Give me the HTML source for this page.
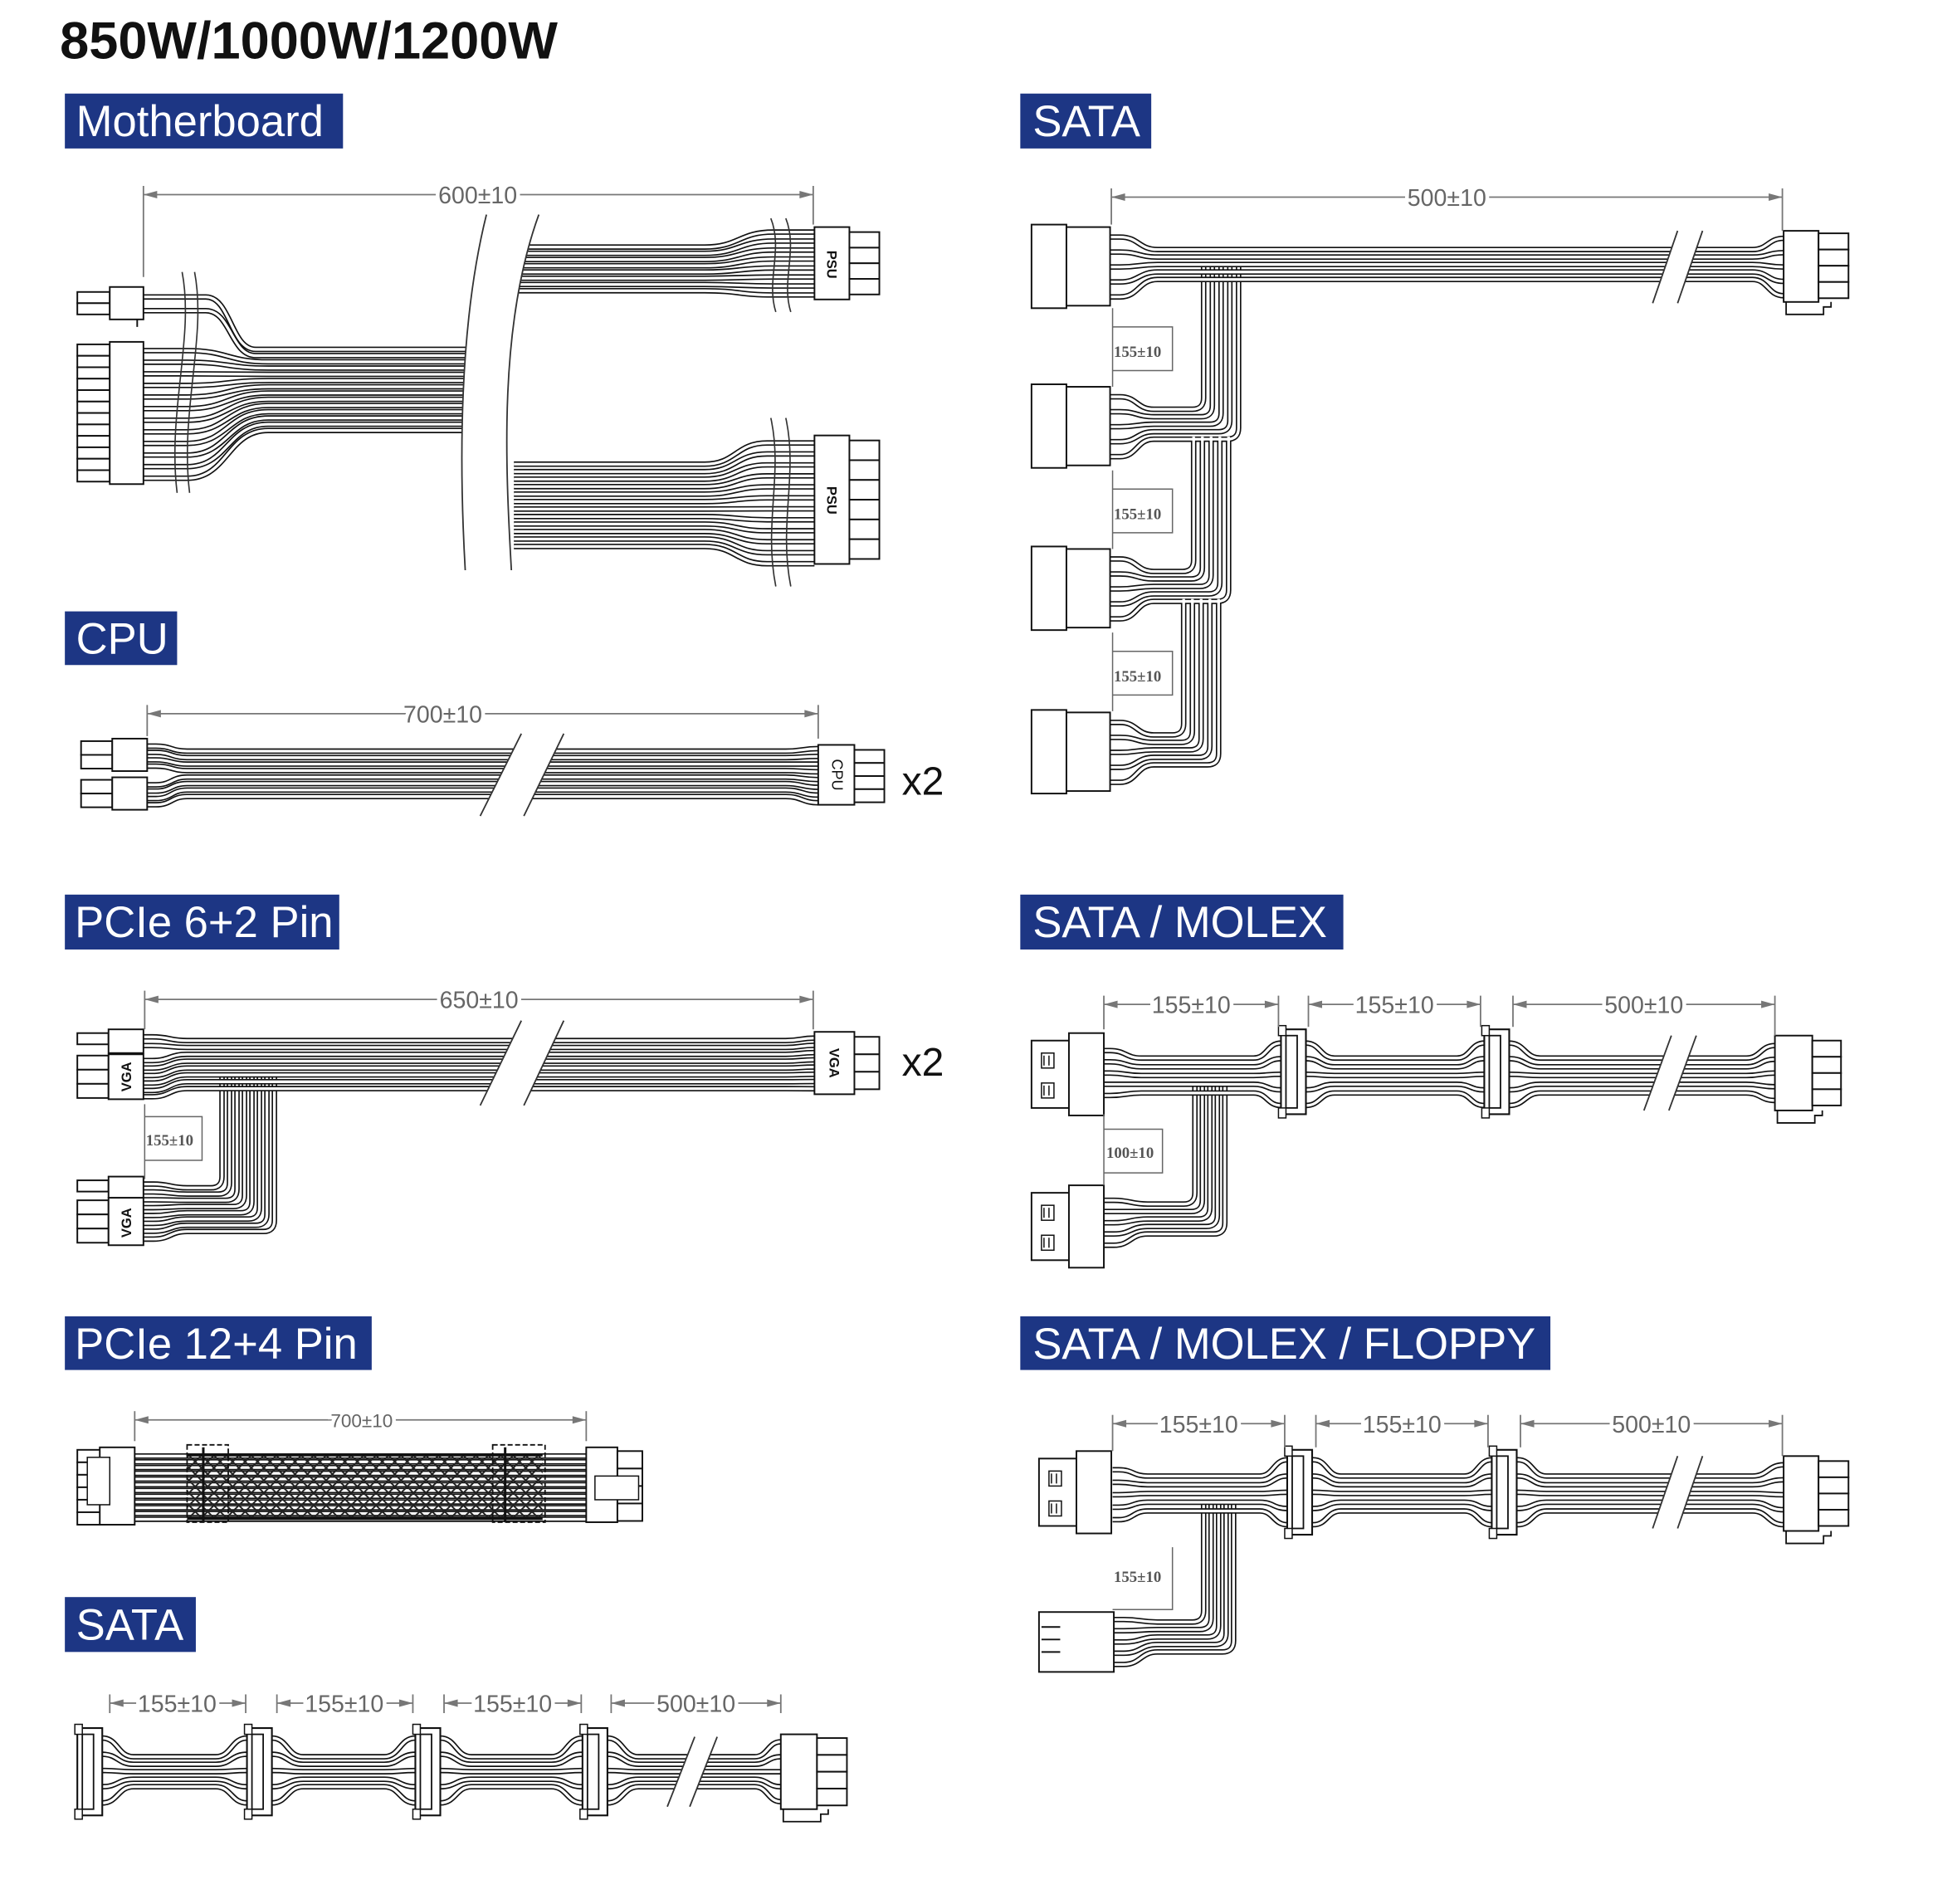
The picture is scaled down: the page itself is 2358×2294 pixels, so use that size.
<!DOCTYPE html>
<html><head><meta charset="utf-8"><style>
html,body{margin:0;padding:0;background:#fff;}
svg{display:block;}
.lb{font-family:"Liberation Sans",sans-serif;font-size:35px;fill:#fff;}
.dm{font-family:"Liberation Sans",sans-serif;font-size:19px;fill:#666;stroke:#fff;stroke-width:6px;paint-order:stroke;text-anchor:middle;}
.sm{font-family:"Liberation Serif",serif;font-size:12.5px;font-weight:bold;fill:#555;text-anchor:middle;}
.cn{font-family:"Liberation Sans",sans-serif;font-size:11px;font-weight:bold;fill:#111;text-anchor:middle;}
</style></head><body>
<svg id="s" xmlns="http://www.w3.org/2000/svg" width="2358" height="2294" viewBox="0 0 1569 1526" preserveAspectRatio="none">
<g id="W"></g>
<g id="C"></g>
<g id="T">
<text x="48" y="47" style="font-family:'Liberation Sans',sans-serif;font-weight:bold;font-size:42px;fill:#111">850W/1000W/1200W</text>
<rect x="52" y="75" width="223" height="44" fill="#1d3684"/><text class="lb" x="61" y="109">Motherboard</text>
<rect x="818" y="75" width="105" height="44" fill="#1d3684"/><text class="lb" x="828" y="109">SATA</text>
<rect x="52" y="490" width="90" height="43" fill="#1d3684"/><text class="lb" x="61" y="524">CPU</text>
<rect x="52" y="717" width="220" height="44" fill="#1d3684"/><text class="lb" x="60" y="751">PCIe 6+2 Pin</text>
<rect x="818" y="717" width="259" height="44" fill="#1d3684"/><text class="lb" x="828" y="751">SATA / MOLEX</text>
<rect x="52" y="1055" width="246" height="43" fill="#1d3684"/><text class="lb" x="60" y="1089">PCIe 12+4 Pin</text>
<rect x="818" y="1055" width="425" height="43" fill="#1d3684"/><text class="lb" x="828" y="1089">SATA / MOLEX / FLOPPY</text>
<rect x="52" y="1280" width="105" height="44" fill="#1d3684"/><text class="lb" x="61" y="1314">SATA</text>

<text class="dm" x="383" y="163">600±10</text>
<text class="dm" x="1160" y="165">500±10</text>
<text class="dm" x="355" y="579">700±10</text>
<text class="dm" x="384" y="808">650±10</text>
<text class="dm" x="290" y="1144" style="font-size:15px">700±10</text>
<text class="dm" x="955" y="812">155±10</text>
<text class="dm" x="1118" y="812">155±10</text>
<text class="dm" x="1318" y="812">500±10</text>
<text class="dm" x="961" y="1148">155±10</text>
<text class="dm" x="1124" y="1148">155±10</text>
<text class="dm" x="1324" y="1148">500±10</text>
<text class="dm" x="142" y="1372">155±10</text>
<text class="dm" x="276" y="1372">155±10</text>
<text class="dm" x="411" y="1372">155±10</text>
<text class="dm" x="558" y="1372">500±10</text>

<text class="sm" x="912" y="286">155±10</text>
<text class="sm" x="912" y="416">155±10</text>
<text class="sm" x="912" y="546">155±10</text>
<text class="sm" x="136" y="918">155±10</text>
<text class="sm" x="906" y="928">100±10</text>
<text class="sm" x="912" y="1268">155±10</text>

<text class="cn" transform="translate(663,212) rotate(90)">PSU</text>
<text class="cn" transform="translate(663,401) rotate(90)">PSU</text>
<text class="cn" transform="translate(667,621) rotate(90)" style="font-weight:normal;font-size:12px">CPU</text>
<text class="cn" transform="translate(665,852) rotate(90)">VGA</text>
<text class="cn" transform="translate(105,863) rotate(-90)">VGA</text>
<text class="cn" transform="translate(105,980) rotate(-90)">VGA</text>
<text x="723" y="637" style="font-family:'Liberation Sans',sans-serif;font-size:32px;fill:#111">x2</text>
<text x="723" y="862" style="font-family:'Liberation Sans',sans-serif;font-size:32px;fill:#111">x2</text>
</g>
</svg>
<script>
const NS='http://www.w3.org/2000/svg';
const Wg=document.getElementById('W'),Cg=document.getElementById('C');
function S(t,a,p){const e=document.createElementNS(NS,t);for(const k in a)e.setAttribute(k,a[k]);(p||Cg).appendChild(e);return e;}
function P(pts){let d='M'+pts[0][0]+','+pts[0][1];for(let i=1;i<pts.length;i++){const [x0,y0]=pts[i-1],[x1,y1]=pts[i];if(y0==y1||x0==x1)d+=' L'+x1+','+y1;else{const m=(x0+x1)/2;d+=` C${m},${y0} ${m},${y1} ${x1},${y1}`;}}return d;}
const WD=[],WB=[];
function W(pts){WD.push(P(pts));}
function R(x,y,w,h,sw){return S('rect',{x,y,width:w,height:h,fill:'#fff',stroke:'#111','stroke-width':sw||1.3});}
function pins(x,y,w,h,n){for(let i=0;i<n;i++)R(x,y+i*h/n,w,h/n);}
function L(x1,y1,x2,y2,c,sw){S('line',{x1,y1,x2,y2,stroke:c||'#111','stroke-width':sw||1.3});}
function BRK(a,b,yT,c,d,yB){S('polygon',{points:`${a},${yT} ${b},${yT} ${d},${yB} ${c},${yB}`,fill:'#fff'});L(a,yT,c,yB,'#333',1.2);L(b,yT,d,yB,'#333',1.2);}
function D(x1,x2,y,t1,t2){const g='#777';L(x1,y,x2,y,g,1.2);S('polygon',{points:`${x1},${y} ${x1+11},${y-3} ${x1+11},${y+3}`,fill:g});S('polygon',{points:`${x2},${y} ${x2-11},${y-3} ${x2-11},${y+3}`,fill:g});L(x1,y-7,x1,t1||y+8,g,1.2);L(x2,y-7,x2,t2||y+8,g,1.2);}
function BR(xc,ysp,yb,xv,ytop){const r=9;WB.push(P([[xc,ysp],[xc+8,ysp],[xc+35,yb]])+` L${xv-r},${yb} Q${xv},${yb} ${xv},${yb-r} L${xv},${ytop}`);}
function sataV(x,y,h){R(x,y,20,h,1.4);R(x+4,y+5,9,h-10,1.2);R(x-2,y-3,6,8,1);R(x-2,y+h-5,6,8,1);}
function latch(x,y){S('polyline',{points:`${x},${y} ${x},${y+10} ${x+30},${y+10} ${x+30},${y+4} ${x+36},${y+4} ${x+36},${y}`,fill:'none',stroke:'#111','stroke-width':1.2});}
function molex(x,y){R(x,y+6,30,54);R(x+30,y,28,66);R(x+8,y+16,10,12,1);R(x+8,y+40,10,12,1);L(x+10,y+18,x+10,y+26,'#111',1);L(x+14,y+18,x+14,y+26,'#111',1);L(x+10,y+42,x+10,y+50,'#111',1);L(x+14,y+42,x+14,y+50,'#111',1);}

for(let j=0;j<2;j++)W([[115,238+11*j],[165,238+11*j],[205,280+5*j],[378,280+5*j]]);
for(let i=0;i<12;i++)W([[115,281+9.3*i],[150,281+9.3*i],[215,290+5*i],[378,290+5*i]]);
for(let i=0;i<8;i++)W([[415,198+5*i],[565,198+5*i],[620,186+7.2*i],[653,186+7.2*i]]);
for(let i=0;i<12;i++)W([[412,372+6*i],[565,372+6*i],[615,355+8.8*i],[653,355+8.8*i]]);
const cy=[598,603,609,614,629,634,640,645];
for(let i=0;i<8;i++)W([[118,cy[i]],[125,cy[i]],[150,602+5.2*i],[630,602+5.2*i],[656,600+6.2*i]]);
const py=[831,838,850,856,862,868,874,879];
for(let i=0;i<8;i++)W([[115,py[i]],[122,py[i]],[150,834+5.5*i],[630,834+5.5*i],[653,832+5.8*i]]);
for(let k=0;k<8;k++)BR(115,949+6.3*k,952+5*k,178+6*k,860);
for(let i=0;i<12;i++)W([[108,1167+4.6*i],[470,1167+4.6*i]]);
{const xs=[62,198,333,467];for(let i=0;i<5;i++){const sp=1393+13*i,b=1408+6*i;let pts=[];for(let c=0;c<4;c++){const x=xs[c];pts.push([x,sp],[x+20,sp]);if(c<3)pts.push([x+45,b],[xs[c+1]-25,b]);}pts.push([xs[3]+45,b],[605,b],[626,1396+12*i]);W(pts);}}
{const ct=[182,310,440,571];for(let i=0;i<5;i++)W([[890,ct[0]+8+12*i],[898,ct[0]+8+12*i],[928,200+6*i],[1405,200+6*i],[1430,191+11.5*i]]);
const base=[0,965,957,949],top=[0,212,350,480];for(let c=1;c<4;c++)for(let i=0;i<5;i++)BR(890,ct[c]+8+12*i,ct[c]+18+6*i,base[c]+7*i,top[c]);}
for(let i=0;i<5;i++){const b=848+7*i,sp=836+12.5*i;W([[885,842+9*i],[890,842+9*i],[915,b],[1005,b],[1027,sp],[1047,sp],[1070,b],[1168,b],[1190,sp],[1210,sp],[1235,b],[1400,b],[1423,838+11*i]]);}
for(let i=0;i<5;i++)BR(885,962+9*i,965+6*i,958+6*i,870);
for(let i=0;i<5;i++){const b=1183+7*i,sp=1170+13*i;W([[892,1178+10*i],[897,1178+10*i],[920,b],[1010,b],[1032,sp],[1053,sp],[1075,b],[1174,b],[1196,sp],[1217,sp],[1240,b],[1405,b],[1430,1174+12*i]]);}
for(let i=0;i<5;i++)BR(893,1298+9*i,1300+6*i,965+6*i,1205);

for(const d of WB)S('path',{d,stroke:'#111','stroke-width':4.4,fill:'none'},Wg);
for(const d of WB)S('path',{d,stroke:'#fff','stroke-width':2.2,fill:'none'},Wg);
for(const d of WD)S('path',{d,stroke:'#111','stroke-width':4.4,fill:'none'},Wg);
for(const d of WD)S('path',{d,stroke:'#fff','stroke-width':2.2,fill:'none'},Wg);

S('path',{d:'M390,172 C368,260 368,370 373,457 L410,457 C405,370 400,260 432,172 Z',fill:'#fff'});
S('path',{d:'M390,172 C368,260 368,370 373,457',fill:'none',stroke:'#333','stroke-width':1.2});
S('path',{d:'M432,172 C400,260 405,370 410,457',fill:'none',stroke:'#333','stroke-width':1.2});
for(const x of [140,150])S('path',{d:`M${x+6},218 C${x+16},270 ${x-6},330 ${x+2},395`,fill:'none',stroke:'#333','stroke-width':1.1});
for(const x of [618,630]){S('path',{d:`M${x},175 C${x+10},200 ${x-4},225 ${x+4},250`,fill:'none',stroke:'#333','stroke-width':1.1});S('path',{d:`M${x},335 C${x+10},380 ${x-6},420 ${x+4},470`,fill:'none',stroke:'#333','stroke-width':1.1});}
pins(62,234,26,18,2);R(88,230,27,26);L(110,256,110,262);
pins(62,276,26,110,12);R(88,274,27,114);
R(653,182,28,58);pins(681,186,24,50,4);
R(653,349,28,103);pins(681,353,24,95,6);
D(115,652,156,222,180);
pins(65,594,25,22,2);R(90,592,28,26);pins(65,625,25,22,2);R(90,623,28,26);
BRK(418,452,588,385,420,654);
R(656,597,29,48);pins(685,601,24,42,4);
D(118,656,572,590,592);
R(62,828,25,9);R(87,825,28,19);pins(62,846,25,34,3);R(87,845,28,36);
R(62,946,25,9);R(87,943,28,17);pins(62,962,25,34,3);R(87,960,28,38);
BRK(418,452,818,385,420,886);
R(653,827,32,50);pins(685,831,20,42,3);
D(116,652,801,825,825);
S('path',{d:'M116,885 L116,945 M116,895 L162,895 L162,930 L116,930',fill:'none',stroke:'#666','stroke-width':1});
{const cp=S('clipPath',{id:'cp'});S('rect',{x:150,y:1165,width:285,height:53},cp);const gg=S('g',{'clip-path':'url(#cp)'});for(let x=100;x<480;x+=10){S('line',{x1:x,y1:1165,x2:x+53,y2:1218,stroke:'#222','stroke-width':1.3},gg);S('line',{x1:x+53,y1:1165,x2:x,y2:1218,stroke:'#222','stroke-width':1.3},gg);}}
L(150,1166,435,1166,'#111',2.5);L(150,1217,435,1217,'#111',2.5);
S('rect',{x:150,y:1158,width:33,height:62,fill:'none',stroke:'#111','stroke-width':1.2,'stroke-dasharray':'4,2'});
S('rect',{x:395,y:1158,width:42,height:62,fill:'none',stroke:'#111','stroke-width':1.2,'stroke-dasharray':'4,2'});
L(163,1160,163,1220,'#111',2);L(405,1160,405,1220,'#111',2);
pins(62,1162,22,60,6);R(80,1160,28,62);R(70,1168,18,38,1);
R(470,1160,25,60);pins(495,1163,20,56,4);R(477,1183,35,19,1);
D(108,470,1138,1155,1155);
for(const x of [62,198,333,467])sataV(x,1385,70);
BRK(557,575,1392,535,553,1448);
R(626,1390,29,60);pins(655,1393,24,54,4);latch(628,1450);
D(88,197,1365);D(222,331,1365);D(356,466,1365);D(490,626,1365);
for(const t of [182,310,440,571]){R(827,t-2,28,67);R(855,t,35,63);}
BRK(1345,1365,185,1325,1345,243);
R(1430,185,28,57);pins(1458,187,24,52,4);latch(1432,242);
D(891,1429,158,180,185);
for(const y of [247,377,507]){S('path',{d:`M892,${y} L892,${y+63} M892,${y+15} L940,${y+15} L940,${y+50} L892,${y+50}`,fill:'none',stroke:'#666','stroke-width':1});}
molex(827,828);molex(827,950);
sataV(1027,825,68);sataV(1190,825,68);
BRK(1340,1360,830,1318,1338,890);
R(1423,830,30,60);pins(1453,834,23,52,4);latch(1425,890);
D(885,1025,805,825,823);D(1049,1187,805,823,823);D(1213,1423,805,823,830);
S('path',{d:'M885,893 L885,950 M885,905 L932,905 L932,940 L885,940',fill:'none',stroke:'#666','stroke-width':1});
molex(833,1163);
R(833,1292,60,48);for(let i=0;i<3;i++){L(835,1304+i*10,850,1304+i*10);}
sataV(1032,1162,68);sataV(1196,1162,68);
BRK(1345,1365,1167,1325,1345,1225);
R(1430,1167,28,60);pins(1458,1171,24,52,4);latch(1432,1227);
D(892,1030,1141,1163,1160);D(1055,1193,1141,1160,1160);D(1219,1429,1141,1160,1167);
S('path',{d:'M940,1240 L940,1290 L892,1290',fill:'none',stroke:'#666','stroke-width':1});
</script>
</body></html>
